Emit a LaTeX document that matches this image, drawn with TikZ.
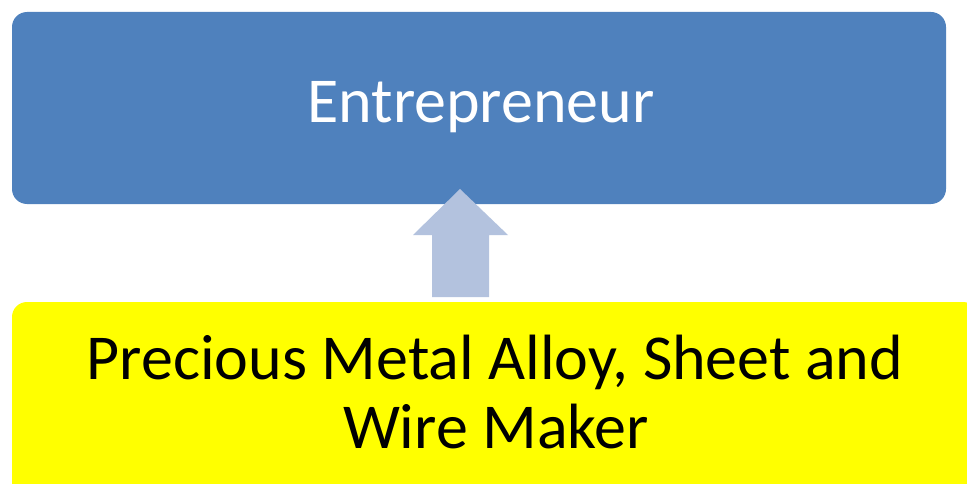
\documentclass[tikz,border=0pt]{standalone}
\usepackage{fontspec}
\setmainfont{Carlito}
\definecolor{boxblue}{RGB}{79,129,189}
\definecolor{arrowblue}{RGB}{179,194,222}
\definecolor{boxyellow}{RGB}{255,255,0}
\begin{document}
\begin{tikzpicture}[x=1pt, y=-1pt, line join=round, font=\fontsize{64}{69}\selectfont]
				\useasboundingbox (0,0) rectangle (967,484);
				\clip (0,0) rectangle (967,484);
				\node[fill=boxblue, rounded corners=15pt, minimum width=934pt, minimum height=192pt, text=white] (entre) at (479,108) {};
				\node[text=white, anchor=base] (entretext) at (481,123) {Entrepreneur};
				\node[fill=boxyellow, rounded corners=15pt, minimum width=966pt, minimum height=198pt, inner sep=0pt] (maker) at (495,401) {};
				\node[anchor=base] (makertext1) at (495,379) {Precious Metal Alloy, Sheet and};
				\node[anchor=base] (makertext2) at (496,448) {Wire Maker};
				\fill[arrowblue] (432,297) coordinate(A_1)--(432,235)--(413,235)--(460,189) coordinate(A_2)--(508,235)--(489,235)--(489,297)--cycle;
			\end{tikzpicture}
\end{document}
